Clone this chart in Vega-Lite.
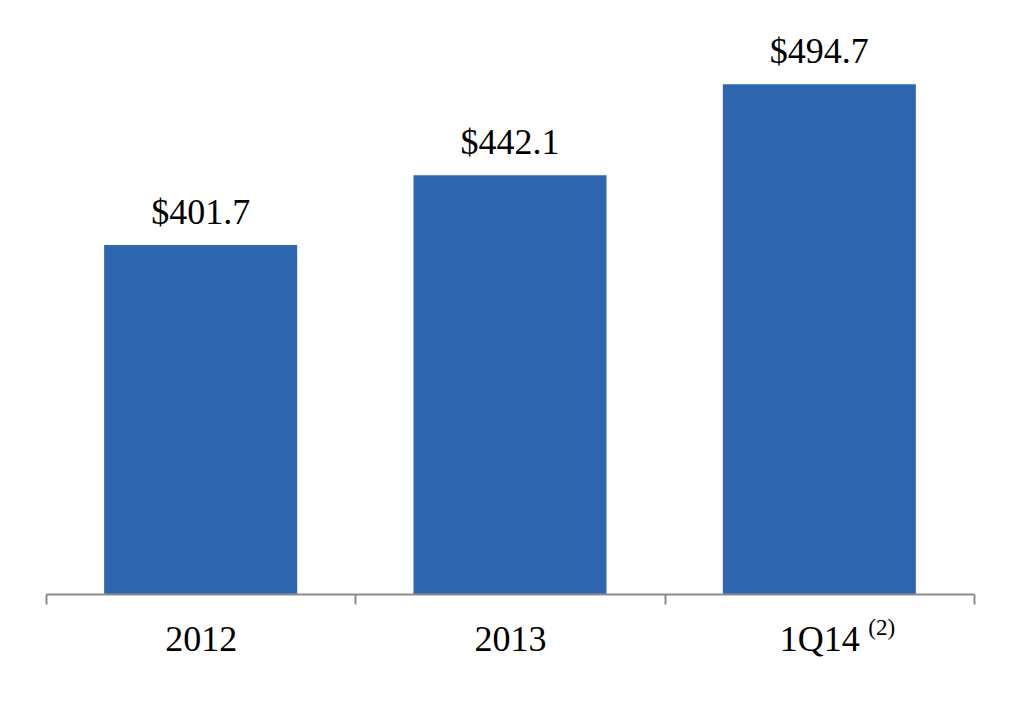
{
  "$schema": "https://vega.github.io/schema/vega-lite/v6.json",
  "width": 928,
  "height": 519,
  "autosize": {"type": "none"},
  "padding": {"left": 46, "top": 75, "right": 46, "bottom": 126},
  "background": "white",
  "config": {"view": {"stroke": null}, "font": "Liberation Serif"},
  "data": {
    "values": [
      {"period": "2012", "value": 401.7, "note": ""},
      {"period": "2013", "value": 442.1, "note": ""},
      {"period": "1Q14", "value": 494.7, "note": "(2)"}
    ]
  },
  "encoding": {
    "x": {
      "field": "period",
      "type": "nominal",
      "sort": null,
      "scale": {"paddingInner": 0, "paddingOuter": 0},
      "axis": {
        "title": null,
        "labelAngle": 0,
        "labelFont": "Liberation Serif",
        "labelFontSize": 36,
        "labelColor": "black",
        "labelBaseline": "alphabetic",
        "labelPadding": 46,
        "tickBand": "extent",
        "tickSize": 10,
        "tickColor": "#8c8c8c",
        "tickWidth": 2,
        "domainColor": "#8c8c8c",
        "domainWidth": 2,
        "grid": false,
        "zindex": 1
      }
    }
  },
  "layer": [
    {
      "mark": {"type": "bar", "color": "#2E66B0", "width": {"band": 0.624}},
      "encoding": {
        "y": {
          "field": "value",
          "type": "quantitative",
          "scale": {"domain": [200, 500], "zero": false, "nice": false, "clamp": true},
          "axis": null
        }
      }
    },
    {
      "mark": {"type": "text", "baseline": "alphabetic", "dy": -21, "fontSize": 36, "font": "Liberation Serif", "color": "black"},
      "encoding": {
        "y": {"field": "value", "type": "quantitative"},
        "text": {"field": "value", "type": "quantitative", "format": "$.1f"}
      }
    },
    {
      "mark": {"type": "text", "baseline": "alphabetic", "align": "left", "dx": 49, "dy": 41, "fontSize": 23, "font": "Liberation Serif", "color": "black"},
      "encoding": {
        "y": {"datum": 200, "type": "quantitative"},
        "text": {"field": "note"}
      }
    }
  ]
}
